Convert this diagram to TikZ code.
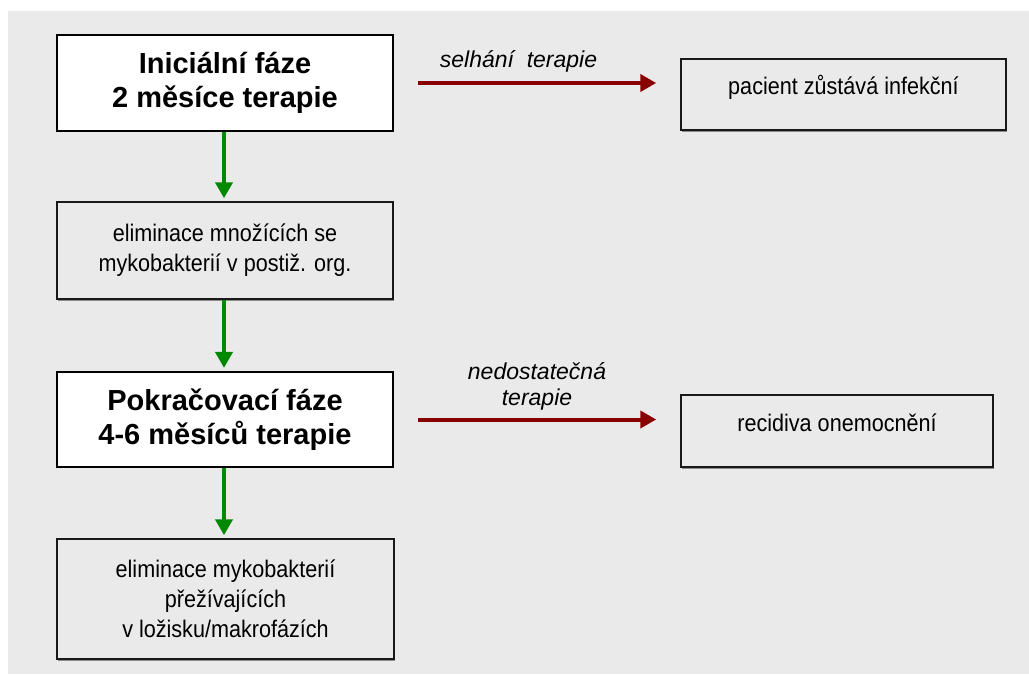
\documentclass[tikz,border=0pt]{standalone}
\usepackage{fontspec}
\setmainfont{Liberation Sans}
\newfontfamily\narrowfont[FakeStretch=0.9]{Liberation Sans}
\usetikzlibrary{arrows.meta,shadows}
\definecolor{bggray}{HTML}{EAEAEA}
\definecolor{arrred}{HTML}{880000}
\definecolor{arrgreen}{HTML}{008800}
\begin{document}
\begin{tikzpicture}[x=1pt,y=-1pt,
  phasebox/.style={draw=black, line width=2.2pt, fill=white, align=center,
    inner sep=0pt, minimum width=336pt,
    font=\bfseries\fontsize{29}{34}\selectfont},
  infobox/.style={draw=black!90, line width=1.5pt, fill=bggray, align=center,
    inner sep=0pt, font=\narrowfont\fontsize{24}{30}\selectfont,
    drop shadow={shadow xshift=0.8pt, shadow yshift=-1.6pt, fill=black!45, opacity=1}},
  lbl/.style={font=\itshape\fontsize{23}{26}\selectfont, anchor=base, inner sep=0pt},
  redarrow/.style={draw=arrred, line width=4pt, -{Triangle[length=16pt,width=17pt]}},
  greenarrow/.style={draw=arrgreen, line width=4pt, -{Triangle[length=16pt,width=17pt]}}
]
\useasboundingbox (0,0) rectangle (1029,675);
\fill[bggray] (8,11) rectangle (1029,674);

\node[phasebox, minimum height=96pt] (b1) at (225,83) {Iniciální fáze\\2 měsíce terapie};
\node[infobox, minimum width=336pt, minimum height=97pt] (b2) at (225,250.5)
  {eliminace množících se\\mykobakterií v postiž. org.};
\node[phasebox, minimum height=95pt] (b3) at (225,419.5) {Pokračovací fáze\\4-6 měsíců terapie};
\node[infobox, minimum width=337pt, minimum height=120pt] (b4) at (225.5,599)
  {eliminace mykobakterií\\přežívajících\\v ložisku/makrofázích};

\node[infobox, minimum width=325pt, minimum height=71pt, text height=10pt, text depth=10pt]
  (b5) at (843.5,94.5) {pacient zůstává infekční};
\node[infobox, minimum width=312pt, minimum height=72pt, text height=10pt, text depth=10pt]
  (b6) at (837,431) {recidiva onemocnění};

\draw[greenarrow, shorten >=3pt] (b1.south -| 224,0) -- (b2.north -| 224,0);
\draw[greenarrow, shorten >=3pt] (b2.south -| 224,0) -- (b3.north -| 224,0);
\draw[greenarrow, shorten >=3pt] (b3.south -| 224,0) -- (b4.north -| 224,0);

\coordinate (r1s) at ([xshift=24pt]b1.east);
\coordinate (r1e) at ([xshift=-24pt]b5.west |- b1.east);
\draw[redarrow] (r1s) -- (r1e);
\coordinate (r2s) at ([xshift=24pt]b3.east);
\coordinate (r2e) at ([xshift=-24pt]b6.west |- b3.east);
\draw[redarrow] (r2s) -- (r2e);

\node[lbl] (l1) at (518.5,67) {selhání\ \ terapie};
\node[lbl] (l2a) at (537,379) {nedostatečná};
\node[lbl] (l2b) at (537,405) {terapie};
\end{tikzpicture}
\end{document}
